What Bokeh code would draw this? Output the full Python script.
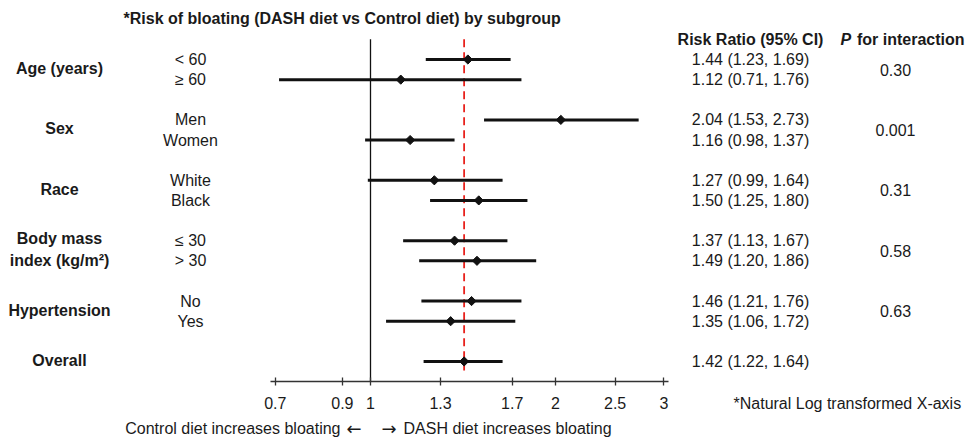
import math
from bokeh.plotting import figure
from bokeh.models import Range1d, FixedTicker, CustomJSTickFormatter
from bokeh.core.properties import value
from bokeh.embed import file_html
from bokeh.resources import INLINE

# ---------------- data ----------------
title = "*Risk of bloating (DASH diet vs Control diet) by subgroup"
groups = ["Age (years)", "Sex", "Race", "Body mass|index (kg/m\u00b2)", "Hypertension", "Overall"]
subgroups = [["< 60", "\u2265 60"], ["Men", "Women"], ["White", "Black"],
             ["\u2264 30", "> 30"], ["No", "Yes"], [""]]
rr = [1.44, 1.12, 2.04, 1.16, 1.27, 1.50, 1.37, 1.49, 1.46, 1.35, 1.42]
lo = [1.23, 0.71, 1.53, 0.98, 0.99, 1.25, 1.13, 1.20, 1.21, 1.06, 1.22]
hi = [1.69, 1.76, 2.73, 1.37, 1.64, 1.80, 1.67, 1.86, 1.76, 1.72, 1.64]
p_int = ["0.30", "0.001", "0.31", "0.58", "0.63"]
ticks = [0.7, 0.9, 1, 1.3, 1.7, 2, 2.5, 3]
header_rr = "Risk Ratio (95% CI)"
header_p = ("P", "for interaction")
note = "*Natural Log transformed X-axis"
left_caption = "Control diet increases bloating"
right_caption = "DASH diet increases bloating"
arrows = ("\u2190", "\u2192")

# ---------------- layout helpers ----------------
W, H = 968, 443
PX_PER_LN = 267.0
X1_PX = 370.0
ROW0_PX = 59.0
ROW_PX = 20.13

def xd(px):
    return math.exp((px - X1_PX) / PX_PER_LN)

def yd(px):
    return (px - ROW0_PX) / ROW_PX

row_y, sub_text, group_mid = [], [], []
r = 0
for subs in subgroups:
    ys = []
    for s in subs:
        ys.append(r)
        sub_text.append(s)
        r += 1
    row_y.extend(ys)
    group_mid.append(sum(ys) / len(ys))
    r += 1
axis_row = row_y[-1] + 1

FONT = value("Liberation Sans")
TC = "#1a1a1a"
FS = "16px"

p = figure(width=W, height=H, x_axis_type="log",
           x_range=Range1d(xd(0), xd(W)), y_range=Range1d(yd(H), yd(0)),
           output_backend="svg", toolbar_location=None, y_axis_location=None,
           min_border=0, outline_line_color=None,
           background_fill_color="white", border_fill_color="white")
p.grid.visible = False

ax = p.xaxis[0]
ax.fixed_location = axis_row
ax.ticker = FixedTicker(ticks=ticks, minor_ticks=[])
ax.formatter = CustomJSTickFormatter(code="return String(tick)")
ax.bounds = (xd(270), xd(668))
ax.major_tick_in = 4
ax.major_tick_out = 4
ax.minor_tick_line_color = None
ax.axis_line_color = "#333333"
ax.axis_line_width = 1.3
ax.major_tick_line_color = "#333333"
ax.major_tick_line_width = 1.3
ax.major_label_text_font = "Liberation Sans"
ax.major_label_text_font_size = FS
ax.major_label_text_color = TC
ax.major_label_standoff = 11

# reference lines
p.segment(x0=[1], x1=[1], y0=[row_y[0] - 1], y1=[axis_row], line_color="#111111", line_width=1.3)
p.segment(x0=[rr[-1]], x1=[rr[-1]], y0=[row_y[0] - 1], y1=[axis_row - 0.55],
          line_color="#e8211c", line_width=1.8, line_dash="8 5")

# CIs and points
p.segment(x0=lo, x1=hi, y0=row_y, y1=row_y, line_color="#111111", line_width=3)
p.scatter(rr, row_y, marker="square", angle=math.pi / 4, size=6.5, color="#111111")

# title and headers
p.text(x=[xd(123)], y=[yd(18)], text=[title], text_align="left", text_baseline="middle",
       text_font=FONT, text_font_size=FS, text_font_style="bold", text_color=TC)
p.text(x=[xd(750)], y=[row_y[0] - 1], text=[header_rr], text_align="center", text_baseline="middle",
       text_font=FONT, text_font_size=FS, text_font_style="bold", text_color=TC)
p.text(x=[xd(840)], y=[row_y[0] - 1], text=[header_p[0]], text_align="left", text_baseline="middle",
       text_font=FONT, text_font_size=FS, text_font_style="bold italic", text_color=TC)
p.text(x=[xd(856.5)], y=[row_y[0] - 1], text=[header_p[1]], text_align="left", text_baseline="middle",
       text_font=FONT, text_font_size=FS, text_font_style="bold", text_color=TC)

# group labels
gx, gy, gt = [], [], []
for g, m in zip(groups, group_mid):
    parts = g.split("|")
    if len(parts) == 1:
        gx.append(xd(59)); gy.append(m - 0.05); gt.append(g)
    else:
        for i, part in enumerate(parts):
            gx.append(xd(59)); gy.append(m - 0.6 + i * 1.1); gt.append(part)
p.text(x=gx, y=gy, text=gt, text_align="center", text_baseline="middle",
       text_font=FONT, text_font_size=FS, text_font_style="bold", text_color=TC)

# subgroup labels
p.text(x=[xd(190)] * len(row_y), y=row_y, text=sub_text, text_align="center", text_baseline="middle",
       text_font=FONT, text_font_size=FS, text_color=TC)

# RR text
rr_text = [f"{a:.2f} ({b:.2f}, {c:.2f})" for a, b, c in zip(rr, lo, hi)]
p.text(x=[xd(750)] * len(row_y), y=row_y, text=rr_text, text_align="center", text_baseline="middle",
       text_font=FONT, text_font_size=FS, text_color=TC)

# P for interaction
p.text(x=[xd(895)] * len(p_int), y=group_mid[:len(p_int)], text=p_int, text_align="center",
       text_baseline="middle", text_font=FONT, text_font_size=FS, text_color=TC)

# notes and captions
p.text(x=[xd(733)], y=[yd(403)], text=[note], text_align="left", text_baseline="middle",
       text_font=FONT, text_font_size=FS, text_color=TC)
p.text(x=[xd(340)], y=[yd(428)], text=[left_caption], text_align="right", text_baseline="middle",
       text_font=FONT, text_font_size=FS, text_color=TC)
p.text(x=[xd(403)], y=[yd(428)], text=[right_caption], text_align="left", text_baseline="middle",
       text_font=FONT, text_font_size=FS, text_color=TC)
p.text(x=[xd(361)], y=[yd(428)], text=[arrows[0]], text_align="right", text_baseline="middle",
       text_font=value("DejaVu Sans"), text_font_size="18px", text_color=TC)
p.text(x=[xd(381)], y=[yd(428)], text=[arrows[1]], text_align="left", text_baseline="middle",
       text_font=value("DejaVu Sans"), text_font_size="18px", text_color=TC)

open("out.html", "w").write(file_html(p, INLINE))
